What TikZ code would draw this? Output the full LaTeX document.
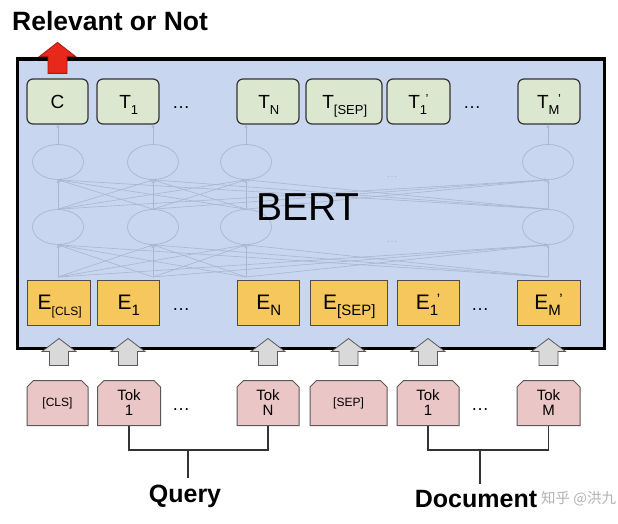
\documentclass[tikz,border=0pt]{standalone}
\usepackage{fontspec}
\setmainfont{Liberation Sans}
\newfontfamily\cjkfont{Noto Sans CJK SC}
\usetikzlibrary{shapes.misc, shapes.geometric, arrows.meta}

\definecolor{bertblue}{HTML}{C8D6F0}
\definecolor{outgreen}{HTML}{DCE7D0}
\definecolor{embyellow}{HTML}{F6C75C}
\definecolor{tokpink}{HTML}{EBC6C6}
\definecolor{netgray}{HTML}{A9B6CE}
\definecolor{arrowred}{HTML}{E8281B}
\definecolor{arrowgray}{HTML}{D9D9D9}

% lowered index, then an optional mark raised after it
\newcommand\idx[2]{\raisebox{-6pt}[0pt][0pt]{\idxfont #1}\kern-1.5pt\raisebox{5pt}[0pt][0pt]{\idxfont #2}}

\begin{document}
\begin{tikzpicture}[x=1pt, y=-1pt,
    outbox/.style={draw=black!80, line width=1.2pt, rounded corners=6pt, fill=outgreen,
      minimum height=45pt, inner sep=0pt,
      font=\fontsize{19}{19}\selectfont\def\idxfont{\fontsize{13}{13}\selectfont}},
    embbox/.style={draw=black!70, line width=1pt, fill=embyellow,
      minimum height=45pt, inner sep=0pt,
      font=\fontsize{21}{21}\selectfont\def\idxfont{\fontsize{15}{15}\selectfont}},
    tokbox/.style={draw=black!65, line width=1pt, fill=tokpink, chamfered rectangle,
      chamfered rectangle corners={north west, north east}, chamfered rectangle xsep=3pt,
      minimum height=45pt, inner sep=0pt, align=center,
      font=\fontsize{15}{15}\selectfont},
    gap/.style={anchor=base, font=\fontsize{18}{18}\selectfont},
    neuron/.style={ellipse, draw=netgray, line width=0.7pt, minimum width=51pt, minimum height=35pt},
    netline/.style={draw=netgray, line width=0.6pt, -{Stealth[length=3.5pt, width=3pt]}},
    bracket/.style={draw=black!80, line width=1.2pt},
    caption/.style={inner sep=6pt, font=\fontsize{25}{25}\selectfont\bfseries},
    inarrow/.pic={\draw[fill=arrowgray, draw=black!65, line width=0.8pt]
      (-9.5,0) -- (-9.5,-14) -- (-17,-14) -- (0,-27) -- (17,-14) -- (9.5,-14) -- (9.5,0) -- cycle;},
    outarrow/.pic={\draw[fill=arrowred, draw=arrowred!70!black, line width=0.8pt]
      (-9.5,0) -- (-9.5,-17) -- (-18,-17) -- (0,-31) -- (18,-17) -- (9.5,-17) -- (9.5,0) -- cycle;}]
  \useasboundingbox (0,0) rectangle (618,524);

  % BERT block
  \draw[line width=3.5pt, fill=bertblue] (17.5,59) rectangle (604.5,348.5);

  % faint transformer layers
  \foreach \n/\x in {1/58, 2/153, 3/246, 4/548}{
    \node[neuron] (l\n) at (\x,227) {};
    \node[neuron] (u\n) at (\x,162) {};
    \coordinate (in\n) at (\x,277);
  }
  \foreach \i in {1,...,4}{
    \foreach \j in {1,...,4}{
      \draw[netline] (in\i) -- (l\j.south);
      \draw[netline] (l\i.north) -- (u\j.south);
    }
  }
  \node[text=netgray, font=\fontsize{11}{11}\selectfont] (ldots) at (392,242) {\dots};
  \node[text=netgray, font=\fontsize{11}{11}\selectfont] (udots) at (392,177) {\dots};
  \node[font=\fontsize{39}{39}\selectfont] (bert) at (308,207) {BERT};

  % output row
  \node[outbox, minimum width=61pt] (tC) at (57.5,101.5) {C};
  \node[outbox, minimum width=62pt] (t1) at (128,101.5) {T\idx{1}{}};
  \node[outbox, minimum width=62pt] (tN) at (268,101.5) {T\idx{N}{}};
  \node[outbox, minimum width=76pt] (tS) at (344,101.5) {T\idx{[SEP]}{}};
  \node[outbox, minimum width=63pt] (t1p) at (418.5,101.5) {T\idx{1}{'}};
  \node[outbox, minimum width=62pt] (tM) at (549,101.5) {T\idx{M}{'}};
  \node[gap] (tdots1) at (181,109) {\dots};
  \node[gap] (tdots2) at (472,109) {\dots};
  \foreach \i in {1,...,4}
    \draw[netline] (u\i.north) -- (u\i.north |- tC.south);

  % embedding row
  \node[embbox, minimum width=63pt] (eC) at (59,302.5) {E\idx{\fontsize{12}{12}\selectfont[CLS]}{}};
  \node[embbox, minimum width=62pt] (e1) at (128,302.5) {E\idx{1}{}};
  \node[embbox, minimum width=62pt] (eN) at (268,302.5) {E\idx{N}{}};
  \node[embbox, minimum width=77pt] (eS) at (348.5,302.5) {E\idx{[SEP]}{}};
  \node[embbox, minimum width=62pt] (e1p) at (428,302.5) {E\idx{1}{'}};
  \node[embbox, minimum width=63pt] (eM) at (548.5,302.5) {E\idx{M}{'}};
  \node[gap] (edots1) at (181,310) {\dots};
  \node[gap] (edots2) at (480,310) {\dots};

  % input tokens
  \node[tokbox, minimum width=61pt, font=\fontsize{12}{12}\selectfont] (kC) at (57.5,403) {[CLS]};
  \node[tokbox, minimum width=63pt] (k1) at (129,403) {Tok\\1};
  \node[tokbox, minimum width=62pt] (kN) at (268,403) {Tok\\N};
  \node[tokbox, minimum width=77pt, font=\fontsize{12}{12}\selectfont] (kS) at (348.5,403) {[SEP]};
  \node[tokbox, minimum width=62pt] (k1p) at (428,403) {Tok\\1};
  \node[tokbox, minimum width=63pt] (kM) at (548.5,403) {Tok\\M};
  \node[gap] (kdots1) at (181,410) {\dots};
  \node[gap] (kdots2) at (480,410) {\dots};

  \foreach \b in {eC, e1, eN, eS, e1p, eM}
    \pic at ([yshift=-40pt]\b.south) {inarrow};
  \pic at ([yshift=5pt]tC.north) {outarrow};

  % labels
  \node[caption, anchor=base west, inner sep=0pt, font=\fontsize{26.5}{26.5}\selectfont\bfseries] (rel) at (12,31) {Relevant or Not};
  \node[caption, anchor=base] (query) at (185,502) {Query};
  \node[caption, anchor=base] (doc) at (476,507) {Document};
  \node[anchor=base west, inner sep=0pt, text=black!30, font=\cjkfont\fontsize{14.5}{14.5}\selectfont] (mark) at (541,503) {知乎 @洪九};

  \coordinate (qmid) at (188,450);
  \coordinate (dmid) at (480,450);
  \draw[bracket] (k1.south) |- (qmid) -| (kN.south);
  \draw[bracket] (qmid) -- (qmid |- query.north);
  \draw[bracket] (k1p.south) |- (dmid) -| (kM.south);
  \draw[bracket] (dmid) -- (dmid |- doc.north);
\end{tikzpicture}
\end{document}
